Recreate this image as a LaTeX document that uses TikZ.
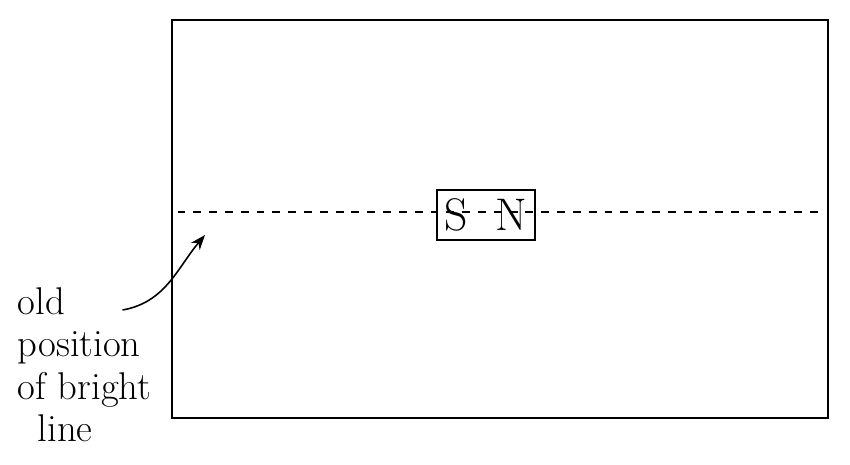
\documentclass[tikz,border=0pt]{standalone}
\usepackage{tikz}
\usetikzlibrary{positioning,arrows.meta}

\begin{document}
\begin{tikzpicture}[
  frame/.style={draw, line width=1.1pt},
  oldline/.style={line width=0.6pt, dash pattern=on 4.5pt off 4.5pt},
  magnet/.style={draw, line width=1pt, minimum width=1.96cm, minimum height=1.0cm,
                 inner sep=2pt, font=\fontsize{26}{28}\selectfont},
  note/.style={align=left, font=\fontsize{22}{24}\selectfont, inner sep=0pt},
  arr/.style={-{Stealth[length=3mm]}, line width=0.9pt}]
\useasboundingbox (0,0) rectangle (17,9.3);
\draw[frame] (3.44,8.9) rectangle (16.56,0.94);
\draw[oldline] (3.55,5.06) -- (16.4,5.06);
\node[magnet] (mag) at (9.72,5.0) {S\hspace{0.55cm}N};
\node[note, anchor=north west] (lbl) at (0.35,3.55) {old\\position\\of bright\\\hspace{0.4cm}line};
\coordinate (tail) at (2.45,3.1);
\coordinate (head) at (4.1,4.6);
\draw[arr] (tail) to[out=10,in=230] (head);
\end{tikzpicture}
\end{document}
